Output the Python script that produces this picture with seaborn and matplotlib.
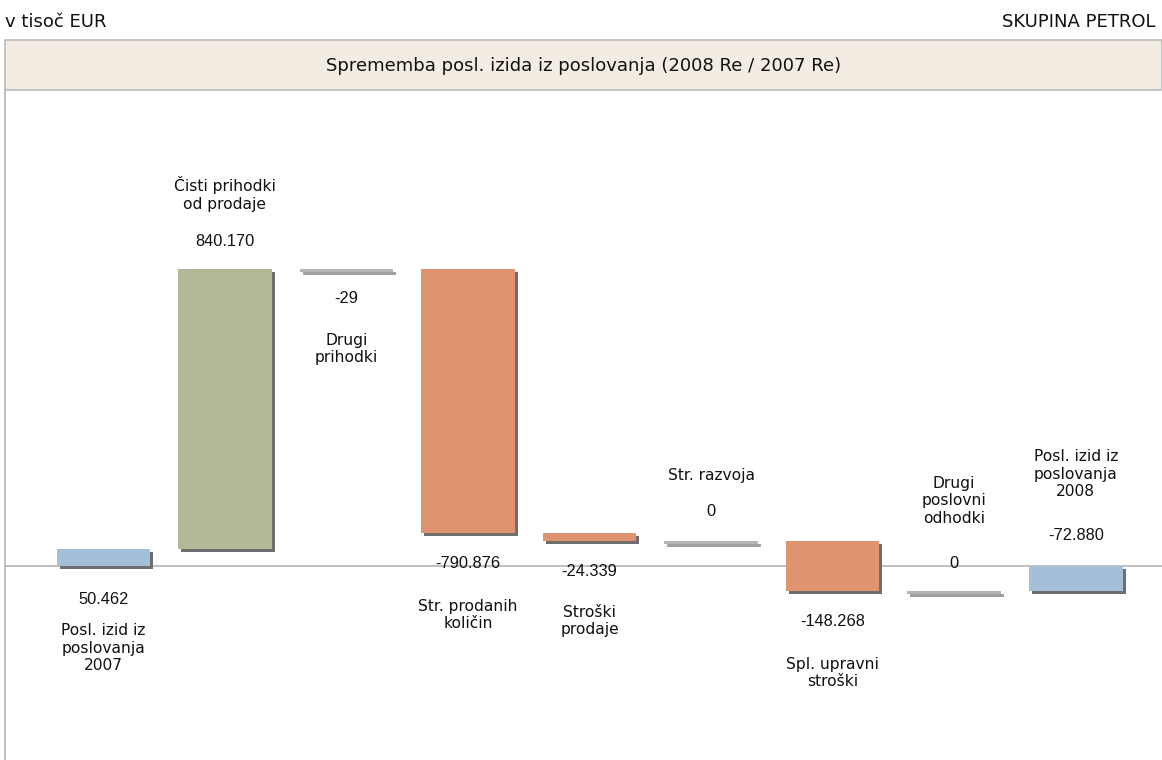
"""
Waterfall: Sprememba posl. izida iz poslovanja (2008 Re / 2007 Re), Skupina Petrol.
"""

import matplotlib.pyplot as plt
import matplotlib.patheffects as pe
import matplotlib.transforms as mtransforms
from matplotlib.patches import Rectangle
import pandas as pd
import seaborn as sns

sns.set_theme(style="white")

# data (v tisoč EUR)
categories = [
    "Posl. izid iz\nposlovanja\n2007",
    "Čisti prihodki\nod prodaje",
    "Drugi\nprihodki",
    "Str. prodanih\nkoličin",
    "Stroški\nprodaje",
    "Str. razvoja",
    "Spl. upravni\nstroški",
    "Drugi\nposlovni\nodhodki",
    "Posl. izid iz\nposlovanja\n2008",
]
values = [50462, 840170, -29, -790876, -24339, 0, -148268, 0, -72880]
value_labels = ["50.462", "840.170", "-29", "-790.876", "-24.339", "0",
                "-148.268", "0", "-72.880"]
kinds = ["total", "up", "flat", "down", "down", "flat", "down", "flat", "total"]

# layout: label rows in figure pixels (from top)
value_row = [600, 241, 299, 563, 572, 512, 621, 563, 536]
name_row = [648, 194, 349, 615, 621, 476, 673, 501, 474]

W, H = 1162, 760
COLORS = {"total": "#A5BFD8", "up": "#B2B896", "down": "#E0936F", "flat": "#B4B4B4"}
MIN_H = 3 / 0.334 * 1000  # ~3 px in data units


def build_frame():
    rows = []
    level = 0
    for cat, v, k in zip(categories, values, kinds):
        if k == "total":
            bottom, height = 0, v
            level = v
        else:
            bottom = level
            height = v if abs(v) >= MIN_H else -MIN_H
            level = level + v
        rows.append({"cat": cat, "bottom": bottom, "height": height, "kind": k})
    return pd.DataFrame(rows)


df = build_frame()

fig = plt.figure(figsize=(W / 100, H / 100), dpi=100)
ax = fig.add_axes([5 / W, 0, (W - 5) / W, (H - 90) / H])

ax.axhline(0, color="#B5B5B5", lw=1.2, zorder=0)
sns.barplot(data=df, x="cat", y="height", bottom=df["bottom"].to_numpy(), order=categories,
            color="#B4B4B4", saturation=1, width=0.77, errorbar=None, ax=ax, linewidth=0)
for patch, k in zip(ax.patches, df["kind"]):
    patch.set_facecolor(COLORS[k])
    shade = "#A0A0A0" if k == "flat" else "#6E6E6E"
    patch.set_path_effects([
        pe.SimplePatchShadow(offset=(2.2, -2.2), shadow_rgbFace=shade, alpha=1),
        pe.Normal(),
    ])

ax.set_xlim(-0.81, 8.71)
ax.set_ylim(-580000, 1425000)
ax.set_xticks([])
ax.set_yticks([])
ax.set_xlabel("")
ax.set_ylabel("")
for s in ["top", "right", "bottom"]:
    ax.spines[s].set_visible(False)
ax.spines["left"].set_color("#B5B5B5")
ax.spines["left"].set_linewidth(1.2)

trans = mtransforms.blended_transform_factory(ax.transData, fig.transFigure)
for i in range(len(categories)):
    ax.text(i, 1 - value_row[i] / H, value_labels[i], transform=trans,
            ha="center", va="center", fontsize=11.8, family="Liberation Sans",
            color="#111111")
    ax.text(i, 1 - name_row[i] / H, categories[i], transform=trans,
            ha="center", va="center", fontsize=11.2, family="DejaVu Sans",
            color="#111111", linespacing=1.2)

# title band
fig.patches.append(Rectangle((5 / W, 1 - 90 / H), (W - 5) / W, 50 / H,
                             transform=fig.transFigure, facecolor="#F3ECE2",
                             edgecolor="#BBBBBB", lw=1.2, zorder=0))
fig.text(584 / W, 1 - 66 / H, "Sprememba posl. izida iz poslovanja (2008 Re / 2007 Re)",
         ha="center", va="center", fontsize=13, family="DejaVu Sans", color="#111111")
fig.text(5 / W, 1 - 22 / H, "v tisoč EUR", ha="left", va="center",
         fontsize=13, family="DejaVu Sans", color="#111111")
fig.text(1156 / W, 1 - 22 / H, "SKUPINA PETROL", ha="right", va="center",
         fontsize=13, family="DejaVu Sans", color="#111111")

fig.savefig("out.png", dpi=100)
